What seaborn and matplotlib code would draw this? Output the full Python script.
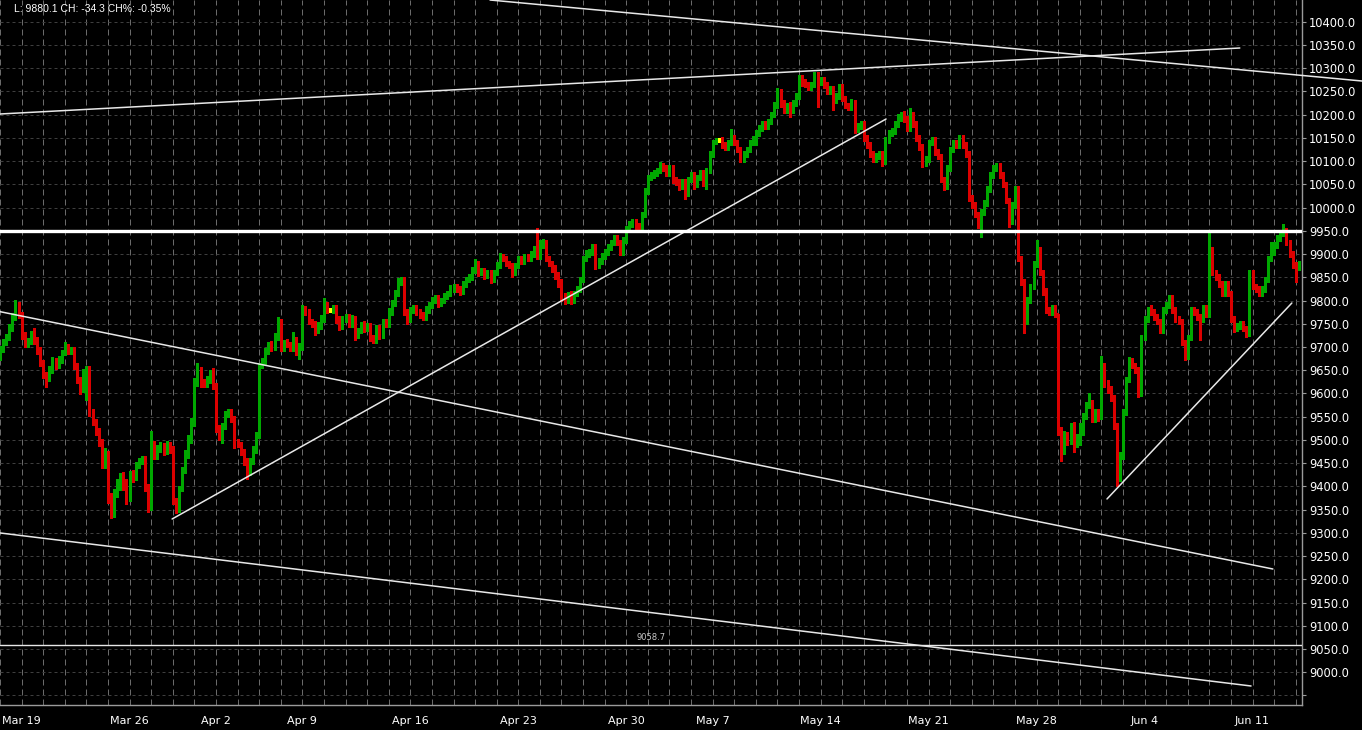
import numpy as np
import matplotlib
matplotlib.use("Agg")
import matplotlib.pyplot as plt
import matplotlib.ticker as mticker
import seaborn as sns

# hourly bars, 7 per trading day; day index 0 = Mar 19, first day shown is -1
first_day = -1
bars_per_day = 7
first_open = 9685.0

closes = [
    [9695, 9712, 9720, 9740, 9765, 9785, 9770],
    [9725, 9705, 9712, 9725, 9715, 9695, 9665],
    [9640, 9632, 9650, 9670, 9660, 9672, 9688],
    [9700, 9690, 9695, 9660, 9630, 9610, 9645],
    [9650, 9560, 9540, 9520, 9495, 9450, 9470],
    [9380, 9345, 9385, 9400, 9420, 9400, 9375],
    [9425, 9420, 9445, 9455, 9460, 9400, 9355],
    [9490, 9465, 9480, 9485, 9475, 9490, 9480],
    [9370, 9350, 9395, 9435, 9470, 9500, 9535],
    [9625, 9650, 9625, 9620, 9630, 9640, 9615],
    [9525, 9505, 9530, 9555, 9560, 9545, 9495],
    [9490, 9475, 9455, 9430, 9455, 9480, 9510],
    [9660, 9670, 9690, 9705, 9700, 9722, 9755],
    [9700, 9710, 9705, 9700, 9715, 9690, 9700],
    [9780, 9775, 9755, 9750, 9735, 9745, 9760],
    [9790, 9780, 9780, 9785, 9760, 9745, 9760],
    [9765, 9750, 9760, 9725, 9735, 9745, 9740],
    [9745, 9720, 9715, 9740, 9725, 9755, 9750],
    [9775, 9795, 9815, 9840, 9845, 9775, 9760],
    [9780, 9785, 9775, 9770, 9765, 9780, 9790],
    [9800, 9805, 9795, 9800, 9810, 9815, 9825],
    [9830, 9825, 9820, 9835, 9845, 9850, 9865],
    [9880, 9860, 9865, 9855, 9860, 9845, 9860],
    [9875, 9895, 9890, 9880, 9875, 9860, 9875],
    [9890, 9885, 9895, 9890, 9900, 9910, 9895],
    [9920, 9925, 9890, 9880, 9870, 9855, 9840],
    [9810, 9800, 9810, 9800, 9815, 9825, 9845],
    [9890, 9900, 9905, 9915, 9875, 9885, 9895],
    [9905, 9915, 9925, 9935, 9925, 9905, 9930],
    [9955, 9965, 9970, 9960, 9955, 9985, 10035],
    [10065, 10070, 10075, 10080, 10090, 10085, 10075],
    [10085, 10060, 10055, 10045, 10055, 10030, 10060],
    [10070, 10050, 10065, 10075, 10055, 10080, 10115],
    [10140, 10145, 10145, 10135, 10130, 10140, 10150],
    [10140, 10125, 10105, 10115, 10125, 10140, 10145],
    [10160, 10170, 10180, 10175, 10185, 10200, 10220],
    [10250, 10225, 10210, 10220, 10210, 10225, 10240],
    [10280, 10270, 10265, 10260, 10265, 10285, 10270],
    [10275, 10265, 10250, 10255, 10230, 10240, 10260],
    [10235, 10220, 10215, 10225, 10170, 10175, 10180],
    [10150, 10135, 10115, 10105, 10110, 10115, 10100],
    [10145, 10160, 10165, 10180, 10195, 10200, 10190],
    [10170, 10200, 10180, 10150, 10130, 10095, 10105],
    [10140, 10145, 10120, 10110, 10060, 10045, 10085],
    [10125, 10140, 10135, 10150, 10135, 10115, 10020],
    [10005, 9985, 9965, 9990, 10010, 10040, 10070],
    [10085, 10090, 10070, 10050, 10015, 9970, 10005],
    [10040, 9890, 9840, 9790, 9800, 9830, 9880],
    [9910, 9860, 9820, 9780, 9775, 9785, 9770],
    [9520, 9490, 9510, 9500, 9530, 9490, 9505],
    [9530, 9550, 9575, 9580, 9545, 9560, 9550],
    [9660, 9620, 9610, 9590, 9530, 9420, 9465],
    [9560, 9630, 9670, 9660, 9650, 9600, 9720],
    [9760, 9780, 9775, 9765, 9755, 9735, 9780],
    [9790, 9805, 9780, 9760, 9755, 9710, 9680],
    [9720, 9780, 9775, 9765, 9760, 9785, 9770],
    [9910, 9860, 9850, 9835, 9815, 9835, 9815],
    [9760, 9740, 9745, 9750, 9740, 9730, 9860],
    [9830, 9825, 9815, 9825, 9845, 9890, 9905],
    [9920, 9935, 9945, 9950, 9925, 9900, 9875],
    [9870, 9880.1],
]

# extension of each bar above max(open, close) and below min(open, close)
wick_hi = [
    [8, 6, 8, 10, 8, 17, 12], [6, 8, 8, 10, 15, 6, 6], [6, 6, 8, 8, 6, 8, 6],
    [10, 6, 6, 5, 6, 5, 8], [8, 10, 6, 6, 6, 6, 12], [6, 6, 10, 15, 8, 10, 15],
    [8, 10, 8, 6, 6, 6, 6], [30, 8, 8, 10, 8, 8, 6], [6, 6, 6, 6, 8, 10, 12],
    [8, 15, 6, 6, 8, 10, 15], [8, 8, 6, 8, 6, 6, 6], [6, 6, 6, 6, 6, 6, 8],
    [6, 6, 8, 6, 8, 8, 10], [6, 6, 8, 6, 18, 6, 8], [10, 8, 6, 6, 6, 8, 8],
    [15, 6, 4, 6, 6, 6, 6], [6, 6, 8, 6, 6, 8, 10], [6, 6, 6, 8, 8, 6, 6],
    [8, 6, 8, 8, 6, 6, 6], [6, 6, 6, 6, 6, 8, 6], [8, 6, 6, 6, 6, 6, 8],
    [6, 6, 6, 6, 6, 6, 8], [10, 6, 6, 6, 6, 6, 6], [8, 8, 6, 6, 6, 6, 6],
    [6, 6, 6, 6, 6, 8, 45], [10, 8, 6, 6, 6, 6, 6], [6, 6, 8, 10, 6, 6, 6],
    [6, 8, 6, 6, 6, 6, 8], [6, 6, 6, 6, 6, 6, 6], [6, 6, 6, 6, 6, 6, 8],
    [6, 6, 6, 6, 8, 6, 6], [6, 6, 6, 6, 6, 6, 6], [6, 6, 6, 6, 6, 6, 6],
    [6, 4, 4, 6, 6, 6, 20], [6, 6, 6, 6, 6, 6, 8], [6, 8, 6, 6, 6, 6, 8],
    [8, 6, 6, 6, 8, 6, 6], [6, 6, 6, 6, 6, 6, 6], [6, 6, 6, 6, 6, 6, 6],
    [6, 6, 6, 8, 6, 6, 6], [6, 6, 6, 6, 8, 6, 6], [6, 6, 6, 6, 6, 6, 8],
    [6, 15, 6, 6, 6, 6, 6], [6, 6, 6, 6, 6, 6, 6], [6, 6, 6, 6, 6, 6, 6],
    [6, 6, 6, 6, 6, 6, 6], [6, 6, 6, 6, 6, 6, 8], [6, 6, 6, 6, 8, 6, 6],
    [20, 6, 6, 6, 6, 6, 6], [0, 8, 10, 8, 6, 8, 8], [6, 8, 6, 20, 6, 6, 6],
    [20, 6, 8, 6, 6, 6, 8], [6, 6, 8, 6, 6, 6, 6], [6, 6, 10, 6, 6, 6, 6],
    [6, 6, 6, 6, 6, 6, 6], [6, 6, 6, 6, 6, 6, 6], [35, 6, 6, 6, 6, 6, 6],
    [6, 6, 6, 6, 6, 6, 6], [6, 6, 6, 6, 6, 6, 20], [6, 6, 6, 15, 6, 6, 6],
    [8, 4],
]
wick_lo = [
    [12, 6, 8, 6, 6, 6, 8], [8, 6, 6, 6, 8, 10, 6], [6, 18, 5, 6, 8, 6, 6],
    [5, 6, 6, 8, 8, 12, 6], [60, 8, 8, 10, 8, 10, 10], [15, 12, 10, 8, 8, 8, 12],
    [6, 10, 6, 5, 6, 10, 10], [5, 6, 6, 6, 8, 6, 8], [8, 8, 6, 6, 6, 8, 6],
    [5, 8, 12, 6, 6, 8, 6], [8, 6, 12, 6, 6, 6, 12], [6, 8, 8, 15, 6, 6, 8],
    [5, 6, 6, 6, 8, 6, 6], [8, 8, 6, 8, 8, 8, 15], [6, 6, 6, 6, 10, 6, 6],
    [6, 6, 4, 6, 8, 8, 6], [6, 8, 6, 10, 6, 6, 8], [6, 8, 6, 6, 8, 6, 8],
    [6, 6, 6, 6, 6, 6, 10], [6, 6, 6, 8, 8, 6, 6], [6, 6, 8, 6, 6, 6, 6],
    [6, 6, 8, 6, 6, 6, 6], [6, 8, 6, 8, 6, 8, 6], [6, 6, 6, 6, 6, 10, 6],
    [6, 6, 6, 6, 6, 6, 6], [6, 8, 6, 6, 8, 8, 10], [10, 8, 6, 8, 6, 6, 6],
    [6, 6, 6, 6, 8, 6, 6], [6, 6, 6, 6, 6, 8, 6], [6, 6, 6, 8, 8, 6, 6],
    [6, 6, 6, 6, 6, 6, 8], [6, 8, 6, 8, 6, 12, 6], [6, 10, 6, 6, 8, 15, 6],
    [6, 4, 4, 6, 6, 6, 6], [6, 6, 8, 6, 6, 6, 6], [10, 6, 6, 6, 6, 6, 6],
    [6, 8, 6, 6, 15, 6, 6], [6, 8, 6, 6, 6, 6, 53], [6, 8, 6, 6, 20, 6, 6],
    [6, 6, 6, 6, 10, 8, 6], [6, 6, 6, 6, 8, 6, 10], [6, 6, 6, 6, 6, 8, 6],
    [6, 6, 6, 6, 6, 8, 6], [6, 6, 6, 6, 6, 8, 6], [6, 6, 6, 6, 6, 6, 6],
    [6, 6, 8, 28, 6, 6, 6], [6, 6, 6, 6, 6, 11, 6], [6, 6, 6, 60, 40, 6, 6],
    [8, 6, 8, 6, 6, 6, 6], [10, 35, 20, 10, 8, 15, 6], [15, 20, 6, 6, 6, 6, 10],
    [6, 6, 8, 6, 6, 20, 8], [6, 6, 6, 6, 6, 8, 6], [6, 6, 6, 6, 6, 6, 6],
    [6, 6, 6, 6, 6, 6, 8], [6, 6, 6, 6, 45, 6, 6], [6, 6, 6, 6, 6, 6, 6],
    [6, 8, 6, 6, 6, 8, 6], [6, 6, 6, 6, 6, 6, 6], [6, 6, 6, 6, 6, 6, 6],
    [30, 4],
]

week_days = [0, 5, 9, 13, 18, 23, 28, 32, 37, 42, 47, 52, 57]
week_labels = ["Mar 19", "Mar 26", "Apr 2", "Apr 9", "Apr 16", "Apr 23", "Apr 30",
               "May 7", "May 14", "May 21", "May 28", "Jun 4", "Jun 11"]

# drawn lines: (day0, price0, day1, price1)
trend_lines = [
    (-0.99, 10201.4, 56.41, 10343.4),
    (-0.99, 9775.9, 57.94, 9222.2),
    (-0.99, 9299.7, 56.93, 8970.4),
    (6.97, 9329.8, 40.03, 10190.6),
    (50.26, 9372.9, 58.82, 9794.6),
]
falling_top = (21.69, 10446.7, 62.06, 10272.4)
resistance = 9950.0
support = 9058.7
header = "L: 9880.1 CH: -34.3 CH%: -0.35%"

# ---- build bars ----
x, o, h, l, c = [], [], [], [], []
prev = first_open
for i, day in enumerate(closes):
    d = first_day + i
    for j, cl in enumerate(day):
        x.append(d + j / bars_per_day)
        o.append(prev)
        c.append(cl)
        h.append(max(prev, cl) + wick_hi[i][j])
        l.append(min(prev, cl) - wick_lo[i][j])
        prev = cl
x, o, h, l, c = map(np.array, (x, o, h, l, c))
cols = np.where(c > o, "#00a800", np.where(c < o, "#dc0000", "#ffff00"))

sns.set_theme(style="dark", rc={
    "axes.facecolor": "black", "figure.facecolor": "black",
    "axes.edgecolor": "#9a9a9a", "xtick.color": "#9a9a9a", "ytick.color": "#9a9a9a",
    "text.color": "white",
})
plt.rcParams["font.family"] = ["DejaVu Sans"]

W, H = 1362, 730
fig = plt.figure(figsize=(W / 100, H / 100), dpi=100)
ax = fig.add_axes([0, 25 / H, 1302 / W, 705 / H])
ax.set_xlim(-0.991, 59.29)
ax.set_ylim(8929.5, 10446.7)

px = 1 / 21.6  # one pixel in day units
ax.vlines(x, l, h, colors=cols, lw=0.75, antialiased=False, zorder=3)
ax.hlines(o, x - 0.8 * px, x, colors=cols, lw=0.75, antialiased=False, zorder=3)
ax.hlines(c, x, x + 0.8 * px, colors=cols, lw=0.75, antialiased=False, zorder=3)

for x0, p0, x1, p1 in trend_lines:
    sns.lineplot(x=[x0, x1], y=[p0, p1], ax=ax, color="#e8e8e8", lw=1.1, zorder=4)
x0, p0, x1, p1 = falling_top
ax.plot([x0, x1], [p0, p1], color="#e8e8e8", lw=1.1, zorder=4, clip_on=False)
ax.axhline(resistance, color="white", lw=2.4, zorder=4)
ax.axhline(support, color="#e8e8e8", lw=1.0, zorder=4)
ax.text(29.15, support + 17, f"{support:.1f}", color="#c8c8c8", fontsize=6,
        ha="center", va="center", zorder=5)

# axes, ticks, grid
ax.set_xticks(week_days)
ax.set_xticklabels(week_labels, color="white", fontsize=8)
ax.set_xticks(range(first_day, 60), minor=True)
ax.tick_params(axis="x", which="major", length=4, width=0.8, pad=4, direction="out")
ax.tick_params(axis="x", which="minor", length=0)
ax.yaxis.tick_right()
ax.set_yticks(np.arange(8950, 10401, 50))
ax.yaxis.set_major_formatter(mticker.FuncFormatter(lambda v, p: "" if v < 8990 else f"{v:.1f}"))
ax.tick_params(axis="y", length=3, width=0.8, pad=2, labelcolor="white", labelsize=8.3)
ax.grid(False)
ax.grid(True, axis="x", which="both", color="#6a6a6a", lw=0.72, ls=(0, (6, 4)))
ax.grid(True, axis="y", which="major", color="#3e3e3e", lw=0.72, ls=(0, (3, 3)))
ax.set_axisbelow(True)
for side in ("left", "top"):
    ax.spines[side].set_visible(False)
for side in ("right", "bottom"):
    ax.spines[side].set_color("#9a9a9a")
    ax.spines[side].set_linewidth(1.0)

fig.text(14 / W, 1 - 9 / H, header, color="white", fontsize=7.5,
         family=["Liberation Sans", "DejaVu Sans"], va="center", ha="left")

fig.savefig("out.png", dpi=100, facecolor="black")
